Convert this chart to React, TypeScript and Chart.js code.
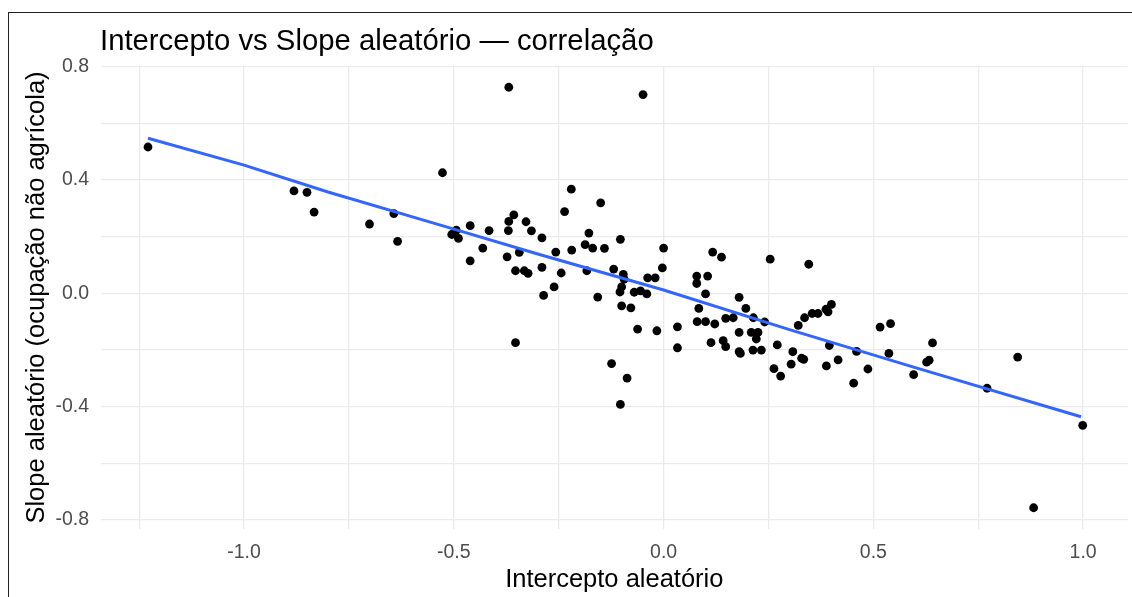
import React, { useEffect, useRef } from 'react';
import { Chart, registerables } from 'chart.js';

Chart.register(...registerables);

// ---- data ----
const interceptRE: number[] = [
  -1.229, -0.881, -0.850, -0.833, -0.701, -0.643, -0.634, -0.527, -0.220, -0.150,
  -0.236, -0.357, -0.369, -0.328, -0.461, -0.494, -0.416, -0.370, -0.315, -0.505,
  -0.489, -0.178, -0.290, -0.103, -0.187, -0.169, -0.219, -0.141, 0.000, -0.431,
  -0.257, -0.344, -0.461, -0.373, -0.290, -0.119, -0.096, -0.183, -0.244, -0.353,
  -0.332, -0.323, -0.003, -0.038, -0.020, -0.094, -0.157, -0.100, -0.104, -0.100,
  -0.078, -0.070, -0.055, -0.040, -0.286, -0.261, -0.062, -0.016, -0.353, -0.124,
  -0.087, -0.103, 0.033, 0.033, 0.117, 0.138, 0.254, 0.346, 0.079, 0.105,
  0.079, 0.100, 0.180, 0.084, 0.196, 0.148, 0.166, 0.214, 0.241, 0.080,
  0.100, 0.122, 0.180, 0.209, 0.225, 0.221, 0.113, 0.142, 0.148, 0.180,
  0.183, 0.213, 0.233, 0.271, 0.321, 0.336, 0.354, 0.368, 0.387, 0.392,
  0.400, 0.395, 0.308, 0.263, 0.279, 0.304, 0.329, 0.334, 0.388, 0.416,
  0.453, 0.460, 0.487, 0.516, 0.541, 0.537, 0.641, 0.627, 0.633, 0.596,
  0.771, 0.844, 0.999, 0.882, -0.369, -0.049,
];
const slopeRE: number[] = [
  0.517, 0.362, 0.357, 0.287, 0.245, 0.282, 0.184, 0.426, 0.368, 0.320,
  0.289, 0.277, 0.254, 0.253, 0.239, 0.223, 0.222, 0.222, 0.221, 0.208,
  0.194, 0.213, 0.196, 0.191, 0.172, 0.160, 0.153, 0.159, 0.160, 0.160,
  0.146, 0.145, 0.115, 0.129, 0.092, 0.086, 0.067, 0.080, 0.072, 0.080,
  0.080, 0.071, 0.090, 0.055, 0.055, 0.050, -0.013, 0.023, 0.005, -0.044,
  -0.051, 0.004, 0.009, -0.002, -0.007, 0.023, -0.126, -0.132, -0.174, -0.248,
  -0.299, -0.392, -0.118, -0.192, 0.146, 0.128, 0.121, 0.103, 0.061, 0.061,
  0.035, -0.002, -0.014, -0.053, -0.053, -0.088, -0.086, -0.086, -0.101, -0.100,
  -0.100, -0.108, -0.138, -0.138, -0.138, -0.161, -0.174, -0.167, -0.188, -0.206,
  -0.212, -0.200, -0.200, -0.182, -0.113, -0.086, -0.071, -0.071, -0.056, -0.065,
  -0.039, -0.184, -0.206, -0.266, -0.292, -0.250, -0.229, -0.233, -0.256, -0.235,
  -0.317, -0.205, -0.267, -0.119, -0.107, -0.212, -0.175, -0.243, -0.236, -0.287,
  -0.335, -0.225, -0.466, -0.757, 0.728, 0.702,
];

// smooth / fitted line
const fitX: number[] = [-1.229, -1.0, -0.8, -0.55, -0.3, 0.0, 0.3, 0.6, 0.995];
const fitY: number[] = [0.548, 0.453, 0.358, 0.249, 0.139, 0.012, -0.128, -0.262, -0.4355];

// axes
const xTicks: number[] = [-1.25, -1.0, -0.75, -0.5, -0.25, 0.0, 0.25, 0.5, 0.75, 1.0];
const xLabeled: number[] = [-1.0, -0.5, 0.0, 0.5, 1.0];
const yTicks: number[] = [-0.8, -0.6, -0.4, -0.2, 0.0, 0.2, 0.4, 0.6, 0.8];
const yLabeled: number[] = [-0.8, -0.4, 0.0, 0.4, 0.8];
const xLimits: number[] = [-1.341, 1.106];
const yLimits: number[] = [-0.832, 0.803];

const plotTitle = 'Intercepto vs Slope aleatório — correlação';
const xTitle = 'Intercepto aleatório';
const yTitle = 'Slope aleatório (ocupação não agrícola)';

const FONT = '"Liberation Sans", Arial, Helvetica, sans-serif';

const isIn = (arr: number[], v: number) => arr.some((a) => Math.abs(a - v) < 1e-9);

const titlePlugin = {
  id: 'plotTitle',
  afterDraw(chart: any) {
    const { ctx, chartArea } = chart;
    ctx.save();
    ctx.font = `29.3px ${FONT}`;
    ctx.fillStyle = '#000000';
    ctx.textAlign = 'left';
    ctx.textBaseline = 'alphabetic';
    ctx.fillText(plotTitle, chartArea.left - 1, 37);
    ctx.restore();
  },
};

export default function App() {
  const ref = useRef<HTMLCanvasElement>(null);

  useEffect(() => {
    Chart.defaults.font.family = FONT;
    const points = interceptRE.map((x, i) => ({ x, y: slopeRE[i] }));
    const fit = fitX.map((x, i) => ({ x, y: fitY[i] }));

    const chart = new Chart(ref.current as HTMLCanvasElement, {
      type: 'scatter',
      data: {
        datasets: [
          {
            type: 'line',
            label: 'ajuste',
            data: fit,
            borderColor: '#3366FF',
            borderWidth: 3,
            pointRadius: 0,
            fill: false,
            tension: 0,
            order: 0,
          } as any,
          {
            type: 'scatter',
            label: 'efeitos aleatórios',
            data: points,
            backgroundColor: '#000000',
            borderWidth: 0,
            pointRadius: 4.4,
            order: 1,
          },
        ],
      },
      options: {
        animation: false,
        responsive: false,
        maintainAspectRatio: false,
        devicePixelRatio: 1,
        layout: { padding: { top: 53, left: 0, right: 0, bottom: 0 } },
        plugins: {
          legend: { display: false },
          tooltip: { enabled: false },
          title: { display: false },
        },
        scales: {
          x: {
            type: 'linear',
            min: xLimits[0],
            max: xLimits[1],
            afterBuildTicks: (scale: any) => {
              scale.ticks = xTicks.map((v) => ({ value: v }));
            },
            afterFit: (scale: any) => {
              scale.height = 68;
            },
            grid: { color: '#EBEBEB', lineWidth: 1.3, drawTicks: false },
            border: { display: false },
            ticks: {
              autoSkip: false,
              maxRotation: 0,
              minRotation: 0,
              padding: 12,
              color: '#4D4D4D',
              font: { size: 19.5, family: FONT },
              callback: (v: any) => (isIn(xLabeled, Number(v)) ? Number(v).toFixed(1) : ''),
            },
            title: {
              display: true,
              text: xTitle,
              color: '#000000',
              font: { size: 25.5, family: FONT, lineHeight: 1.0 },
              padding: { top: 0, bottom: 4 },
            },
          },
          y: {
            type: 'linear',
            min: yLimits[0],
            max: yLimits[1],
            afterBuildTicks: (scale: any) => {
              scale.ticks = yTicks.map((v) => ({ value: v }));
            },
            afterFit: (scale: any) => {
              scale.width = 92;
            },
            grid: { color: '#EBEBEB', lineWidth: 1.3, drawTicks: false },
            border: { display: false },
            ticks: {
              autoSkip: false,
              padding: 12,
              color: '#4D4D4D',
              font: { size: 19.5, family: FONT },
              callback: (v: any) => (isIn(yLabeled, Number(v)) ? Number(v).toFixed(1) : ''),
            },
            title: {
              display: true,
              text: yTitle,
              color: '#000000',
              font: { size: 25.5, family: FONT },
              padding: { top: 12.5, bottom: 0 },
            },
          },
        },
      },
      plugins: [titlePlugin],
    });
    return () => chart.destroy();
  }, []);

  return (
    <div
      style={{
        position: 'fixed',
        left: 8,
        top: 12,
        width: 1123,
        height: 584,
        borderLeft: '1px solid #222222',
        borderTop: '1px solid #222222',
        background: '#ffffff',
      }}
    >
      <canvas ref={ref} width={1123} height={584} style={{ display: 'block' }} />
    </div>
  );
}
